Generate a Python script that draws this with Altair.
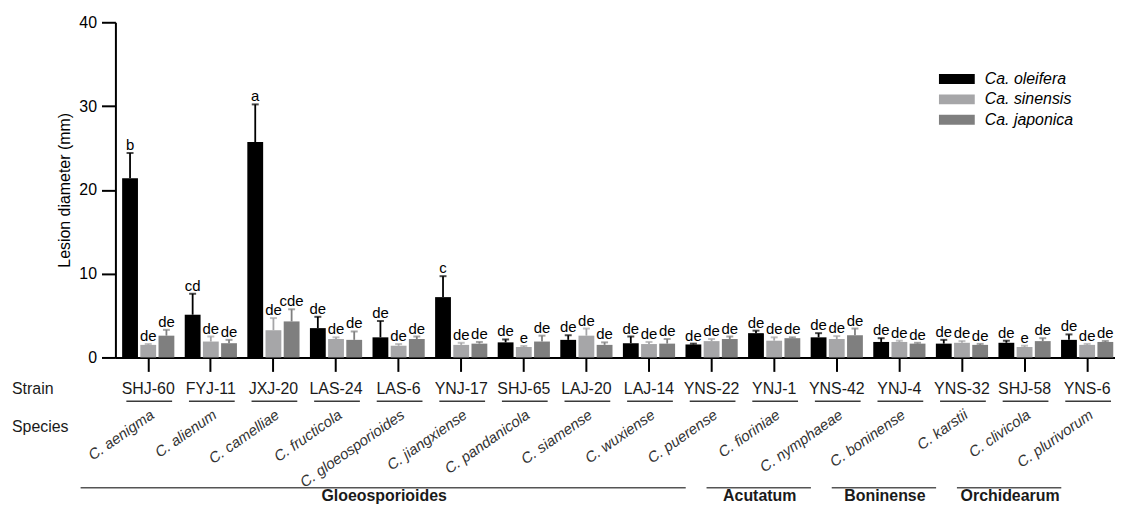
import altair as alt
import pandas as pd

strains = ["SHJ-60", "FYJ-11", "JXJ-20", "LAS-24", "LAS-6", "YNJ-17", "SHJ-65", "LAJ-20",
           "LAJ-14", "YNS-22", "YNJ-1", "YNS-42", "YNJ-4", "YNS-32", "SHJ-58", "YNS-6"]
species = ["C. aenigma", "C. alienum", "C. camelliae", "C. fructicola", "C. gloeosporioides",
           "C. jiangxiense", "C. pandanicola", "C. siamense", "C. wuxiense", "C. puerense",
           "C. fioriniae", "C. nymphaeae", "C. boninense", "C. karstii", "C. clivicola",
           "C. plurivorum"]
series = ["Ca. oleifera", "Ca. sinensis", "Ca. japonica"]
colors = ["#000000", "#a6a6a8", "#7f7f7f"]

oleifera_mean = [21.4, 5.1, 25.7, 3.5, 2.4, 7.2, 1.8, 2.1, 1.7, 1.55, 2.9, 2.4, 1.85, 1.65, 1.75, 2.1]
oleifera_sd = [3.0, 2.5, 4.5, 1.35, 1.95, 2.5, 0.35, 0.55, 0.8, 0.1, 0.3, 0.5, 0.45, 0.45, 0.25, 0.65]
sinensis_mean = [1.5, 1.9, 3.25, 2.2, 1.4, 1.5, 1.25, 2.6, 1.6, 1.95, 2.0, 2.2, 1.85, 1.75, 1.25, 1.5]
sinensis_sd = [0.1, 0.6, 1.45, 0.2, 0.2, 0.25, 0.12, 0.85, 0.25, 0.25, 0.4, 0.35, 0.15, 0.2, 0.15, 0.12]
japonica_mean = [2.6, 1.7, 4.3, 2.1, 2.2, 1.65, 1.9, 1.5, 1.65, 2.2, 2.3, 2.65, 1.65, 1.5, 1.95, 1.85]
japonica_sd = [0.7, 0.4, 1.45, 1.0, 0.3, 0.2, 0.7, 0.3, 0.55, 0.3, 0.1, 0.8, 0.1, 0.12, 0.35, 0.12]

oleifera_letters = ["b", "cd", "a", "de", "de", "c", "de", "de", "de", "de", "de", "de", "de", "de", "de", "de"]
sinensis_letters = ["de", "de", "de", "de", "de", "de", "e", "de", "de", "de", "de", "de", "de", "de", "e", "de"]
japonica_letters = ["de", "de", "cde", "de", "de", "de", "de", "de", "de", "de", "de", "de", "de", "de", "de", "de"]

clades = ["Gloeosporioides", "Acutatum", "Boninense", "Orchidearum"]
clade_first = [0, 10, 12, 14]
clade_last = [9, 11, 13, 15]

row_titles = ["Strain", "Species"]

# ---- build tables ----
rows = []
for s, m, sd, lt in zip(series,
                        [oleifera_mean, sinensis_mean, japonica_mean],
                        [oleifera_sd, sinensis_sd, japonica_sd],
                        [oleifera_letters, sinensis_letters, japonica_letters]):
    for i, st in enumerate(strains):
        rows.append({"strain": st, "series": s, "mean": m[i], "top": m[i] + sd[i], "letter": lt[i]})
df = pd.DataFrame(rows)

ann = pd.DataFrame({"idx": list(range(len(strains))), "strain": strains, "species": species})
cl = pd.DataFrame({"clade": clades, "first": clade_first, "last": clade_last})
cl["mid"] = (cl["first"] + cl["last"]) / 2

# ---- layout / scale parameters ----
W, H = 1005, 337
n = len(strains)
p_inner = 0.166
c_first, c_last = 33.0, 977.0
step = (c_last - c_first) / (n - 1)
p_outer = (W / step - (n - p_inner)) / 2
start = c_first - step * (1 - p_inner) / 2
align = start / (W - step * (n - p_inner))

xband = alt.Scale(domain=strains, paddingInner=p_inner, paddingOuter=p_outer, align=align)
xidx = alt.Scale(domain=[0, n - 1], range=[c_first, c_last], zero=False, nice=False)
yscale = alt.Scale(domain=[0, 40], nice=False)
xoff = alt.XOffset("series:N", sort=series, scale=alt.Scale(domain=series, paddingInner=0.13, paddingOuter=0))

base = alt.Chart(df)

bars = base.mark_bar().encode(
    x=alt.X("strain:N", sort=strains, scale=xband,
            axis=alt.Axis(labels=False, title=None, tickSize=14, tickWidth=2, tickColor="black",
                          domainWidth=2, domainColor="black")),
    xOffset=xoff,
    y=alt.Y("mean:Q", scale=yscale,
            axis=alt.Axis(values=[0, 10, 20, 30, 40], title="Lesion diameter (mm)", grid=False,
                          tickSize=14, tickWidth=2, tickColor="black", domainWidth=2,
                          domainColor="black", labelFontSize=16, labelColor="black",
                          labelPadding=5, titleFontSize=16, titleFontWeight="normal",
                          titleColor="black", titlePadding=6)),
    color=alt.Color("series:N", sort=series, scale=alt.Scale(domain=series, range=colors),
                    legend=alt.Legend(title=None, orient="none", legendX=836, legendY=47,
                                      symbolType="M-1.8,-0.5H1.8V0.5H-1.8Z", symbolSize=400,
                                      symbolStrokeWidth=0, labelFontSize=16,
                                      labelFontStyle="italic", labelColor="black",
                                      labelOffset=18, rowPadding=2.5, padding=0)),
)

err = base.mark_rule(strokeWidth=1.8).encode(
    x=alt.X("strain:N", sort=strains, scale=xband),
    xOffset=xoff,
    y=alt.Y("mean:Q", scale=yscale),
    y2="top:Q",
    stroke=alt.Stroke("series:N", scale=alt.Scale(domain=series, range=colors), legend=None),
)

caps = base.mark_tick(size=7, thickness=2, orient="horizontal").encode(
    x=alt.X("strain:N", sort=strains, scale=xband),
    xOffset=xoff,
    y=alt.Y("top:Q", scale=yscale),
    fill=alt.Fill("series:N", scale=alt.Scale(domain=series, range=colors), legend=None),
)

letters = base.mark_text(fontSize=15, dy=-3, baseline="alphabetic", align="center",
                         color="black").encode(
    x=alt.X("strain:N", sort=strains, scale=xband),
    xOffset=xoff,
    y=alt.Y("top:Q", scale=yscale),
    text="letter:N",
)

main = alt.layer(bars, err, caps, letters)

a = alt.Chart(ann)
strain_txt = a.mark_text(fontSize=16, align="center", baseline="alphabetic", color="#1a1a1a").encode(
    x=alt.X("idx:Q", scale=xidx, axis=None), y=alt.value(374), text="strain:N")
underline = a.mark_rule(xOffset=-22, x2Offset=24, strokeWidth=1.5, color="#3a3a3a").encode(
    x=alt.X("idx:Q", scale=xidx, axis=None), x2="idx:Q", y=alt.value(381))
species_txt = a.mark_text(fontSize=15, fontStyle="italic", align="right", baseline="alphabetic",
                          angle=325, xOffset=7, color="#333333").encode(
    x=alt.X("idx:Q", scale=xidx, axis=None), y=alt.value(397), text="species:N")

c = alt.Chart(cl)
clade_line = c.mark_rule(xOffset=-68, x2Offset=-26, strokeWidth=1.5, color="#555555").encode(
    x=alt.X("first:Q", scale=xidx, axis=None), x2="last:Q", y=alt.value(468))
clade_txt = c.mark_text(fontSize=16, fontWeight="bold", align="center", baseline="alphabetic",
                        xOffset=-46, color="#1a1a1a").encode(
    x=alt.X("mid:Q", scale=xidx, axis=None), y=alt.value(481), text="clade:N")

rt = pd.DataFrame({"t": row_titles})
strain_title = alt.Chart(rt.iloc[[0]]).mark_text(fontSize=16, align="left", baseline="alphabetic",
                                                 color="#1a1a1a").encode(
    x=alt.value(-104), y=alt.value(374), text="t:N")
species_title = alt.Chart(rt.iloc[[1]]).mark_text(fontSize=16, align="left", baseline="alphabetic",
                                                  color="#1a1a1a").encode(
    x=alt.value(-104), y=alt.value(412), text="t:N")

annot = alt.layer(strain_txt, underline, species_txt, clade_line, clade_txt, strain_title, species_title)

chart = alt.layer(main, annot).resolve_scale(x="independent").properties(
    width=W, height=H,
    autosize=alt.AutoSizeParams(type="none"),
    padding={"left": 108, "top": 13, "right": 0, "bottom": 148},
).configure(font="Liberation Sans").configure_view(stroke=None)

chart.save("out.html", embed_options={"renderer": "svg", "actions": False})
